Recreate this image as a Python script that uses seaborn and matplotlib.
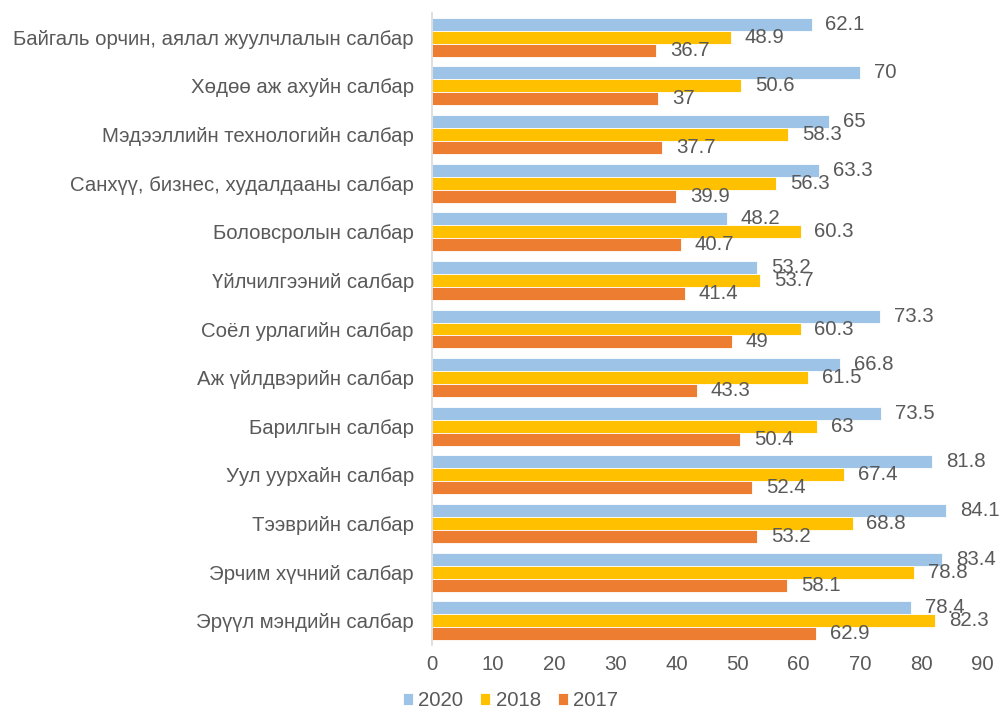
import matplotlib
matplotlib.use("Agg")
import matplotlib.pyplot as plt
import seaborn as sns
import pandas as pd

sectors = [
    "Байгаль орчин, аялал жуулчлалын салбар",
    "Хөдөө аж ахуйн салбар",
    "Мэдээллийн технологийн салбар",
    "Санхүү, бизнес, худалдааны салбар",
    "Боловсролын салбар",
    "Үйлчилгээний салбар",
    "Соёл урлагийн салбар",
    "Аж үйлдвэрийн салбар",
    "Барилгын салбар",
    "Уул уурхайн салбар",
    "Тээврийн салбар",
    "Эрчим хүчний салбар",
    "Эрүүл мэндийн салбар",
]
years = ["2020", "2018", "2017"]
values_2020 = [62.1, 70, 65, 63.3, 48.2, 53.2, 73.3, 66.8, 73.5, 81.8, 84.1, 83.4, 78.4]
values_2018 = [48.9, 50.6, 58.3, 56.3, 60.3, 53.7, 60.3, 61.5, 63, 67.4, 68.8, 78.8, 82.3]
values_2017 = [36.7, 37, 37.7, 39.9, 40.7, 41.4, 49, 43.3, 50.4, 52.4, 53.2, 58.1, 62.9]
x_ticks = [0, 10, 20, 30, 40, 50, 60, 70, 80, 90]

colors = {"2020": "#9DC3E6", "2018": "#FFC000", "2017": "#ED7D31"}
text_color = "#595959"
fs = 14.7

series = {"2020": values_2020, "2018": values_2018, "2017": values_2017}
df = pd.DataFrame(
    [(s, y, v) for y in years for s, v in zip(sectors, series[y])],
    columns=["sector", "year", "value"],
)

sns.set_theme(style="white")
plt.rcParams["font.family"] = ["Liberation Sans", "DejaVu Sans"]

fig = plt.figure(figsize=(10.01, 7.14), dpi=100)
ax = fig.add_axes([0.4316, 0.0966, 0.5495, 0.8852])

sns.barplot(
    data=df, x="value", y="sector", hue="year",
    order=sectors, hue_order=years, palette=colors, saturation=1,
    orient="h", width=0.8, edgecolor="white", linewidth=0.6,
    ax=ax, legend=True,
)

for container in ax.containers:
    ax.bar_label(container, labels=[f"{v:g}" for v in container.datavalues],
                 padding=10, fontsize=fs, color=text_color)

ax.set_xlim(0, 90)
ax.set_xticks(x_ticks)
ax.set_xlabel("")
ax.set_ylabel("")
ax.tick_params(axis="both", length=0, labelsize=fs, colors=text_color)
ax.tick_params(axis="x", pad=7)
ax.tick_params(axis="y", pad=13)
for side in ["top", "right", "bottom"]:
    ax.spines[side].set_visible(False)
ax.spines["left"].set_color("#D9D9D9")
ax.spines["left"].set_linewidth(1.2)

handles, labels = ax.get_legend_handles_labels()
ax.legend_.remove()
fig.legend(handles, labels, loc="lower center", bbox_to_anchor=(0.51, 0.005),
           ncol=3, frameon=False, fontsize=fs, labelcolor=text_color,
           handlelength=0.5, handleheight=0.5, handletextpad=0.25,
           columnspacing=0.85, borderpad=0, borderaxespad=0)

fig.savefig("out.png", dpi=100)
